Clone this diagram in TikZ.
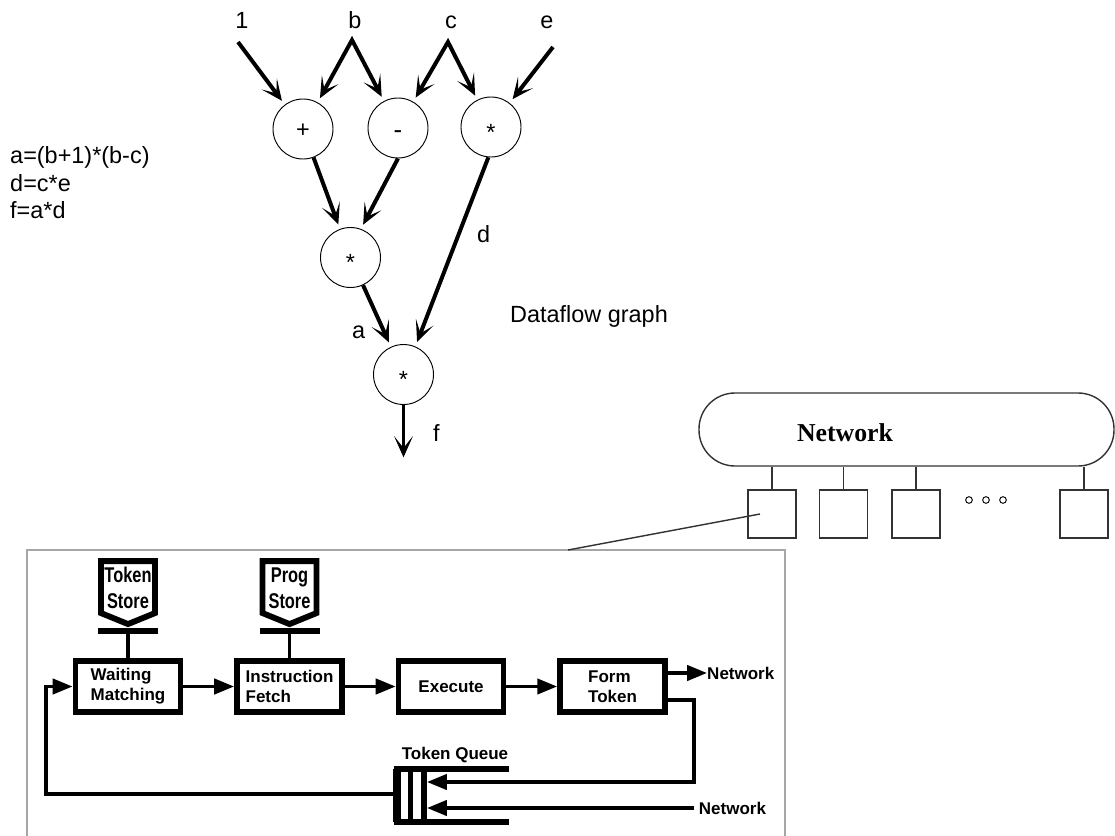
\documentclass[tikz,border=0pt]{standalone}
\usepackage{fontspec}
\setmainfont{Liberation Sans}
\newfontfamily\netfont{Liberation Serif}
\usepackage{tikz}
\usetikzlibrary{
    arrows.meta,
    positioning
}
\tikzstyle{op} = [
    circle, draw,
    line width=0.8pt,
    minimum size=1.8cm,
    inner sep=0pt
]
\tikzstyle{flow} = [
    line width=3.4pt,
    shorten >=4pt,
    -{Stealth[length=18pt,width=16pt,inset=10pt]}
]
\tikzstyle{split} = [
    line width=3.4pt,
    line join=miter,
    shorten >=4pt,
    shorten <=4pt,
    {Stealth[length=18pt,width=16pt,inset=10pt]}-{Stealth[length=18pt,width=16pt,inset=10pt]}
]
\tikzstyle{txt} = [
    inner sep=0pt,
    font=\fontsize{20}{23.5}\selectfont
]
\tikzstyle{stage} = [
    rectangle, draw,
    line width=5pt,
    minimum width=3.15cm,
    minimum height=1.53cm,
    inner sep=0pt,
    align=left,
    font=\bfseries\fontsize{14.5}{17}\selectfont
]
\tikzstyle{link} = [
    line width=3pt,
    -{Triangle[length=17pt,width=13pt]}
]
\tikzstyle{tag} = [
    inner sep=0pt,
    font=\bfseries\fontsize{14.5}{17}\selectfont
]
\tikzstyle{storetext} = [
    inner sep=0pt,
    align=center,
    font=\bfseries\fontsize{14}{22}\selectfont
]
\tikzstyle{pe} = [
    rectangle, draw=black!80,
    line width=1.2pt,
    minimum size=1.44cm,
    inner sep=0pt
]
\tikzstyle{bus} = [
    rectangle, draw=black!80,
    line width=1.2pt,
    rounded corners=1.08cm,
    minimum width=12.45cm,
    minimum height=2.19cm
]
\tikzstyle{dot} = [
    circle, draw,
    line width=0.8pt,
    minimum size=0.2cm,
    inner sep=0pt
]

\newcommand{\opsym}[2]{\raisebox{-#1}[0pt][0pt]{#2}}
\newcommand{\tall}[1]{\scalebox{1}[1.3]{#1}}
\newcommand{\storage}[3]{%
    \begin{scope}[shift={(#2.north)}]
        \draw[line width=5pt, line join=miter]
            (-27,-97) -- (27,-97) -- (27,-45) -- (0,-34) -- (-27,-45) -- cycle;
        \draw[line width=5pt] (-30,-27.5) -- (30,-27.5);
        \coordinate (#1 bar) at (0,-25);
        \node[storetext] (#1) at (0,-70) {#3};
    \end{scope}
    \draw[line width=3pt] (#1 bar) -- (#2.north);
}

\begin{document}
\begin{tikzpicture}[
    x=0.03cm, y=-0.03cm,
    node distance=1.52cm
]
\useasboundingbox (0,0) rectangle (1115,835);

% Gleichungen
\node[txt, anchor=west, align=left] (eqs) at (10,183) {
    a=(b+1)*(b-c)\\
    d=c*e\\
    f=a*d
};

% Datenflussgraph
\node[txt, anchor=base] (l1) at (242,28) {1};
\node[txt, anchor=base] (lb) at (355,28) {b};
\node[txt, anchor=base] (lc) at (451,28) {c};
\node[txt, anchor=base] (le) at (547,28) {e};
\coordinate (in1) at (238,42);
\coordinate (inb) at (352,40);
\coordinate (inc) at (448,42);
\coordinate (ine) at (553,47);

\node[op, font=\fontsize{20}{24}\selectfont] (plus) at (303,129) {\opsym{.35em}{+}};
\node[op, font=\fontsize{22}{24}\selectfont] (minus) at (398,128) {\opsym{.4em}{-}};
\node[op, font=\fontsize{20}{24}\selectfont] (mul1) at (491,127) {\opsym{.57em}{*}};
\node[op, font=\fontsize{20}{24}\selectfont] (mul2) at (350.5,257.5) {\opsym{.57em}{*}};
\node[op, font=\fontsize{20}{24}\selectfont] (mul3) at (403.5,374.5) {\opsym{.57em}{*}};
\coordinate (fout) at (403.5,462);

\draw[flow] (in1) -- (plus);
\draw[split] (plus) -- (inb) -- (minus);
\draw[split] (minus) -- (inc) -- (mul1);
\draw[flow] (ine) -- (mul1);
\draw[flow] (plus) -- (mul2);
\draw[flow] (minus.-90) -- (mul2.70);
\draw[flow] (mul1.-95) -- (mul3.67);
\draw[flow] (mul2) -- (mul3);
\draw[flow] (mul3) -- (fout);

\node[txt, anchor=base west] (ld) at (477,242) {d};
\node[txt, anchor=base west] (la) at (352,338) {a};
\node[txt, anchor=base west] (lf) at (433,441) {f};
\node[txt, anchor=base west] (dfg) at (510,322) {Dataflow graph};

% Netzwerk mit Prozessorelementen
\node[bus] (net) at (906.5,429.5) {};
\node[font=\netfont\bfseries\fontsize{22}{26}\selectfont] (netlbl) at (845,433) {Network};

\node[pe] (pe1) at (772,514) {};
\node[pe] (pe2) at (843.5,514) {};
\node[pe] (pe3) at (916,514) {};
\node[pe] (pe4) at (1084,514) {};
\draw[black!80, line width=1.2pt] (net.south -| pe1.north) -- (pe1.north);
\draw[black!80, line width=1.2pt] (net.south -| pe2.north) -- (pe2.north);
\draw[black!80, line width=1.2pt] (net.south -| pe3.north) -- (pe3.north);
\draw[black!80, line width=1.2pt] (net.south -| pe4.north) -- (pe4.north);

\node[dot] (dot1) at (969,500) {};
\node[dot] (dot2) at (986,500) {};
\node[dot] (dot3) at (1003,500) {};

% Aufbau eines Prozessorelements
\coordinate (petop) at (568,550);
\draw[gray!70, line width=1.2pt] (27,850) -- (27,550) -- (785,550) -- (785,850);
\draw[black!80, line width=1.2pt] ([xshift=-0.36cm]pe1.center) -- (petop);

\node[stage] (wait) at (128,686.5) {Waiting\\Matching};
\node[stage, right=of wait] (instr) {Instruction\\Fetch};
\node[stage, right=of instr] (exec) {Execute};
\node[stage, right=of exec] (form) {Form\\Token};

\storage{tstore}{wait}{\tall{Token}\\\tall{Store}}
\storage{pstore}{instr}{\tall{Prog}\\\tall{Store}}

\draw[link] (wait) -- (instr);
\draw[link] (instr) -- (exec);
\draw[link] (exec) -- (form);

\node[tag, anchor=west] (netout) at (707,673) {Network};
\draw[link] (form.east |- netout.west) -- (netout.west);

% Token-Warteschlange
\node[tag] (qlabel) at (455,755) {Token Queue};
\draw[line width=5pt] (394,769) -- (509,769);
\draw[line width=5pt] (394,822) -- (509,822);
\draw[line width=6pt] (397,769) -- (397,822);
\draw[line width=5pt] (410.5,769) -- (410.5,822);
\draw[line width=5pt] (424,769) -- (424,822);
\coordinate (qin1) at (427,782);
\coordinate (qin2) at (427,808);
\coordinate (qout) at (394,794);
\coordinate (qturn) at (694,782);
\coordinate (loopc) at (46,794);

\draw[link] ([yshift=-0.405cm]form.east) -| (qturn) -- (qin1);
\node[tag, anchor=west, inner xsep=4pt] (netin) at (694,808) {Network};
\draw[link] (netin.west) -- (qin2);
\draw[link] (qout) -- (loopc) |- (wait.west);

\end{tikzpicture}
\end{document}
